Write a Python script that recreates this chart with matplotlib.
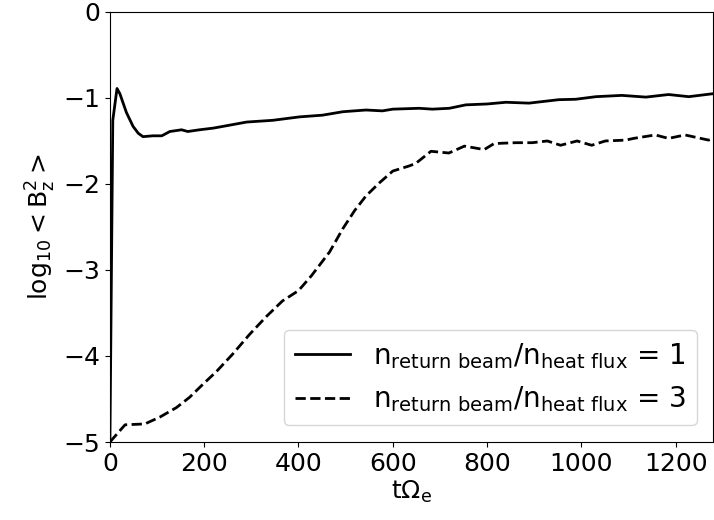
import matplotlib
matplotlib.use("Agg")
import matplotlib.pyplot as plt

# time (t Omega_e) and log10 <Bz^2>
t_ratio1 = [0, 6, 15, 21, 35, 49, 60, 70, 91, 110, 127, 152, 165, 190, 220, 260, 290,
            345, 402, 451, 494, 543, 578, 600, 656, 684, 720, 755, 800, 840, 889, 952,
            988, 1031, 1086, 1137, 1185, 1228, 1280]
b_ratio1 = [-4.95, -1.26, -0.89, -0.95, -1.17, -1.33, -1.41, -1.45, -1.44, -1.44, -1.39,
            -1.37, -1.39, -1.37, -1.35, -1.31, -1.28, -1.26, -1.22, -1.20, -1.16, -1.14,
            -1.15, -1.13, -1.12, -1.13, -1.12, -1.08, -1.07, -1.05, -1.06, -1.02, -1.015,
            -0.985, -0.97, -0.99, -0.96, -0.985, -0.95]

t_ratio3 = [0, 32, 74, 106, 141, 169, 197, 226, 260, 296, 332, 366, 400, 427, 466, 494,
            519, 543, 571, 600, 635, 649, 681, 719, 752, 794, 815, 861, 896, 928, 956,
            991, 1022, 1051, 1094, 1111, 1157, 1185, 1220, 1270, 1280]
b_ratio3 = [-5.0, -4.80, -4.79, -4.71, -4.60, -4.48, -4.33, -4.18, -3.98, -3.75, -3.54,
            -3.36, -3.24, -3.07, -2.79, -2.52, -2.31, -2.14, -1.99, -1.85, -1.79, -1.76,
            -1.62, -1.64, -1.56, -1.60, -1.53, -1.52, -1.52, -1.50, -1.55, -1.50, -1.55,
            -1.50, -1.49, -1.47, -1.43, -1.47, -1.43, -1.49, -1.47]

fig = plt.figure(figsize=(7.14, 5.2), dpi=100)
ax = fig.add_axes([0.154, 0.15, 0.845, 0.827])

ax.plot(t_ratio1, b_ratio1, color="black", linestyle="-", linewidth=2,
        label=r"$\mathrm{n_{return\ beam}/n_{heat\ flux}}$ = 1")
ax.plot(t_ratio3, b_ratio3, color="black", linestyle="--", linewidth=2,
        label=r"$\mathrm{n_{return\ beam}/n_{heat\ flux}}$ = 3")

ax.set_xlim(0, 1280)
ax.set_ylim(-5, 0)
ax.set_xticks([0, 200, 400, 600, 800, 1000, 1200])
ax.set_yticks([-5, -4, -3, -2, -1, 0])
ax.tick_params(labelsize=18)
ax.set_xlabel(r"$\mathrm{t\Omega_e}$", fontsize=18, labelpad=2)
ax.set_ylabel(r"$\mathrm{log_{10} < B_z^2 >}$", fontsize=18)
ax.legend(loc="lower right", fontsize=20, borderaxespad=0.6)

fig.savefig("out.png", dpi=100)
